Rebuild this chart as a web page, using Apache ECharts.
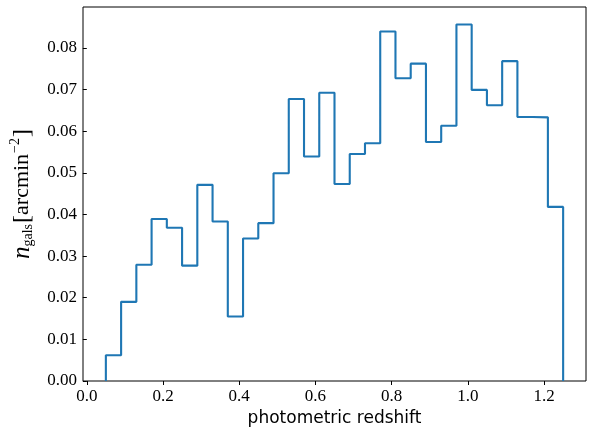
<!DOCTYPE html>
<html>
<head>
<meta charset="utf-8">
<script src="https://cdn.jsdelivr.net/npm/echarts@6/dist/echarts.min.js"></script>
<style>html,body{margin:0;padding:0;background:#fff}#c{width:591px;height:428px}</style>
</head>
<body>
<div id="c"></div>
<script>
// bin edges of the histogram (photometric redshift)
var binEdges = [0.05,0.09,0.13,0.17,0.21,0.25,0.29,0.33,0.37,0.41,0.45,0.49,0.53,0.57,0.61,0.65,0.69,0.73,0.77,0.81,0.85,0.89,0.93,0.97,1.01,1.05,1.09,1.13,1.17,1.21,1.25];
// n_gals per bin [arcmin^-2]
var binValues = [0.0062,0.0190,0.0279,0.0389,0.0368,0.0277,0.0471,0.0383,0.0155,0.0342,0.0379,0.0499,0.0677,0.0539,0.0692,0.0473,0.0545,0.0571,0.0839,0.0727,0.0762,0.0574,0.0613,0.0856,0.0699,0.0662,0.0768,0.0634,0.0633,0.0418];
var xTicks = [0.0,0.2,0.4,0.6,0.8,1.0,1.2];
var yTicks = [0.00,0.01,0.02,0.03,0.04,0.05,0.06,0.07,0.08];

var outline = [[binEdges[0],0]];
for (var i = 0; i < binValues.length; i++) {
  outline.push([binEdges[i], binValues[i]]);
  outline.push([binEdges[i+1], binValues[i]]);
}
outline.push([binEdges[binEdges.length-1], 0]);

var chart = echarts.init(document.getElementById('c'), null, {renderer:'canvas'});
var tickFont = {fontFamily:'Liberation Serif', fontSize:17, color:'#000'};
chart.setOption({
  animation:false,
  grid:{left:83, top:7, right:5, bottom:47, containLabel:false, outerBoundsMode:'none',
        show:true, borderColor:'#000', borderWidth:1, backgroundColor:'#fff'},
  xAxis:{
    type:'value', min:-0.01, max:1.31,
    axisLine:{show:false},
    splitLine:{show:false},
    axisTick:{show:true, length:4, lineStyle:{color:'#000', width:1}, customValues:xTicks},
    axisLabel:Object.assign({margin:7, customValues:xTicks, formatter:function(v){return v.toFixed(1);}}, tickFont),
    name:'photometric redshift', nameLocation:'middle', nameGap:28,
    nameTextStyle:{fontFamily:'DejaVu Sans', fontSize:17, color:'#000'}
  },
  yAxis:{
    type:'value', min:0, max:0.0898,
    axisLine:{show:false},
    splitLine:{show:false},
    axisTick:{show:true, length:4, lineStyle:{color:'#000', width:1}, customValues:yTicks},
    axisLabel:Object.assign({margin:6, customValues:yTicks, formatter:function(v){return v.toFixed(2);}}, tickFont),
    name:'{n|n}{sub|gals}{br|[}{r|arcmin}{sup|−2}{br|]}',
    nameLocation:'middle', nameRotate:90, nameGap:42,
    nameTextStyle:{
      color:'#000',
      rich:{
        n:{fontFamily:'Liberation Serif', fontStyle:'italic', fontSize:25, lineHeight:30, color:'#000'},
        sub:{fontFamily:'Liberation Serif', fontSize:14, lineHeight:30, padding:[12,1,0,0], color:'#000'},
        br:{fontFamily:'Liberation Serif', fontSize:24, lineHeight:30, color:'#000'},
        r:{fontFamily:'Liberation Serif', fontSize:22, lineHeight:30, color:'#000'},
        sup:{fontFamily:'Liberation Serif', fontSize:14, lineHeight:30, padding:[0,1,14,1], color:'#000'}
      }
    }
  },
  series:[{
    type:'line', data:outline, showSymbol:false, symbol:'none',
    lineStyle:{color:'#1f77b4', width:2.1}, silent:true
  }]
});
</script>
</body>
</html>
